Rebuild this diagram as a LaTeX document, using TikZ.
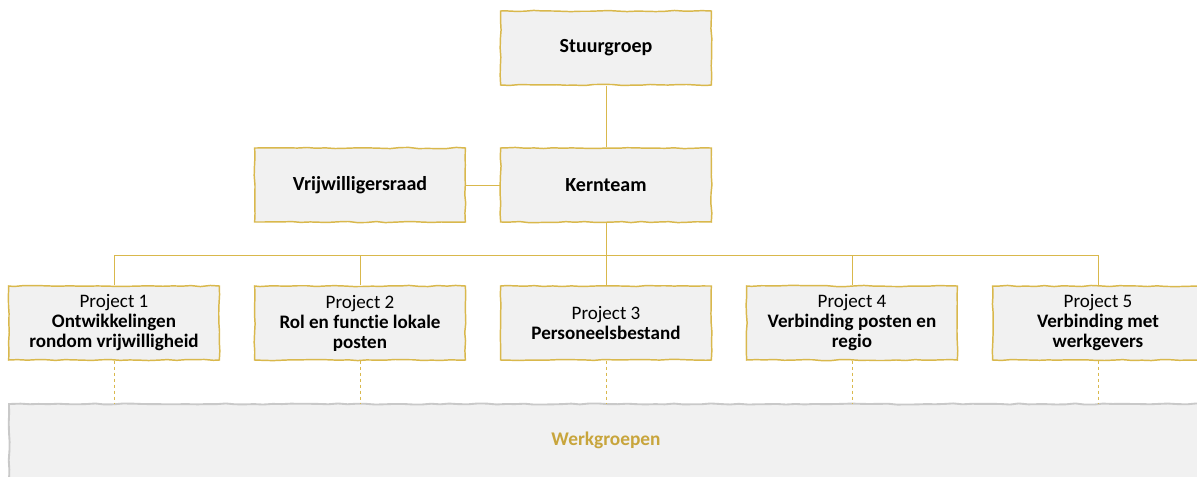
\documentclass[tikz,border=0pt]{standalone}
\usepackage{fontspec}
\setmainfont{Carlito}[Ligatures={NoCommon}]
\usetikzlibrary{decorations.pathmorphing}
\definecolor{gold}{HTML}{D9B84C}
\definecolor{boxfill}{HTML}{F1F1F1}
\definecolor{wgborder}{HTML}{C9C9C9}
\definecolor{wgtext}{HTML}{C8A53C}
\tikzset{
  sketch/.style={decorate, decoration={random steps, segment length=7pt, amplitude=0.45pt}},
  orgbox/.style={draw=gold, line width=1.1pt, fill=boxfill, minimum width=158pt, minimum height=55.5pt,
    align=center, inner sep=2pt, font=\fontsize{14.3}{15}\selectfont, text=black},
  topbox/.style={orgbox, font=\bfseries\fontsize{15}{15}\selectfont},
  link/.style={draw=gold, line width=0.7pt},
  dlink/.style={draw=gold, line width=0.7pt, dash pattern=on 2.5pt off 2pt},
  wgbox/.style={draw=wgborder, line width=1.4pt, fill=boxfill},
}
\pgfmathsetseed{7}
\begin{document}
\begin{tikzpicture}[x=0.75pt,y=-0.75pt]
\useasboundingbox (0,0) rectangle (1197,476);
\begin{scope}
\clip (0,0) rectangle (1197,476);
% Werkgroepen
\draw[wgbox, sketch] (9,404) rectangle (1215,500);
\node[font=\bfseries\fontsize{14.5}{15}\selectfont, text=wgtext] (wg) at (606,440) {Werkgroepen};
\coordinate (wgtop) at (606,404);
% boxes
\node[topbox, sketch] (sg) at (606,48) {Stuurgroep};
\node[topbox, sketch] (vr) at (360,185) {Vrijwilligersraad};
\node[topbox, sketch] (kt) at (606,185) {Kernteam};
\node[orgbox, sketch] (p1) at (114,323) {Project 1\\\bfseries Ontwikkelingen\\\bfseries rondom vrijwilligheid};
\node[orgbox, sketch] (p2) at (360,323) {Project 2\\\bfseries Rol en functie lokale\\\bfseries posten};
\node[orgbox, sketch] (p3) at (606,323) {Project 3\\\bfseries Personeelsbestand};
\node[orgbox, sketch] (p4) at (852,323) {Project 4\\\bfseries Verbinding posten en\\\bfseries regio};
\node[orgbox, sketch] (p5) at (1098,323) {Project 5\\\bfseries Verbinding met\\\bfseries werkgevers};
% connectors
\coordinate (bus) at (606,255);
\draw[link] (sg.south) -- (kt.north);
\draw[link] (vr.east) -- (kt.west);
\draw[link] (kt.south) -- (bus);
\foreach \p in {p1,p2,p3,p4,p5}{
  \draw[link] (bus) -| (\p.north);
  \draw[dlink] (\p.south) -- (\p.south |- wgtop);
}
\end{scope}
\end{tikzpicture}
\end{document}
